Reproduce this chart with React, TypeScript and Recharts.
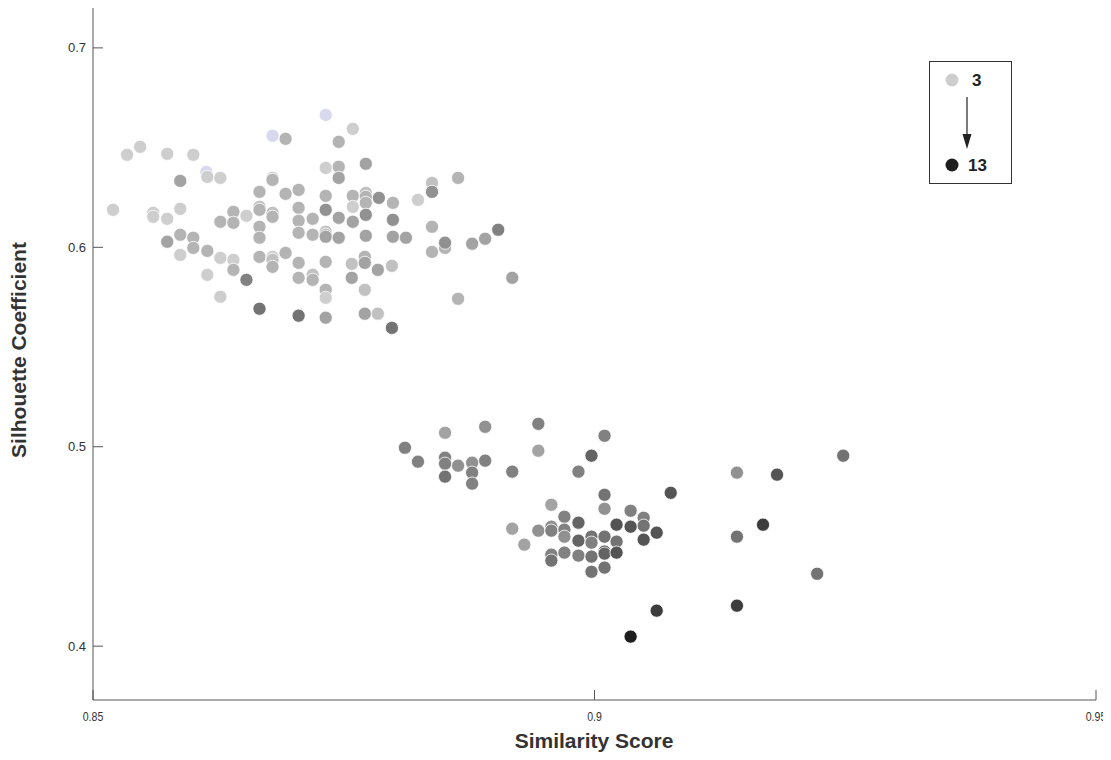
import React from 'react';
import { ScatterChart, Scatter, XAxis, YAxis, Legend, Label } from 'recharts';

// Similarity score of each run (x)
const similarity: number[] = [
  // upper group
  0.8520, 0.8534, 0.8547, 0.8574, 0.8600, 0.8587, 0.8613, 0.8614, 0.8627, 0.8560,
  0.8560, 0.8574, 0.8587, 0.8574, 0.8587, 0.8600, 0.8600, 0.8614, 0.8587, 0.8627,
  0.8640, 0.8640, 0.8653, 0.8614, 0.8627, 0.8640, 0.8627, 0.8640, 0.8653, 0.8666,
  0.8666, 0.8679, 0.8679, 0.8666, 0.8666, 0.8666, 0.8666, 0.8679, 0.8679, 0.8679,
  0.8692, 0.8692, 0.8705, 0.8679, 0.8679, 0.8679, 0.8692, 0.8666, 0.8705, 0.8705,
  0.8705, 0.8705, 0.8705, 0.8705, 0.8719, 0.8719, 0.8719, 0.8719, 0.8732, 0.8732,
  0.8732, 0.8732, 0.8732, 0.8732, 0.8732, 0.8732, 0.8732, 0.8732, 0.8732, 0.8745,
  0.8759, 0.8745, 0.8745, 0.8745, 0.8745, 0.8772, 0.8759, 0.8759, 0.8759, 0.8772,
  0.8772, 0.8772, 0.8772, 0.8785, 0.8799, 0.8799, 0.8772, 0.8799, 0.8812, 0.8824,
  0.8838, 0.8838, 0.8864, 0.8838, 0.8851, 0.8851, 0.8838, 0.8878, 0.8891, 0.8904,
  0.8918, 0.8864, 0.8758, 0.8771, 0.8771, 0.8784, 0.8798, 0.8758, 0.8771, 0.8771,
  0.8784, 0.8798,
  // lower group
  0.8811, 0.8824, 0.8851, 0.8891, 0.8944, 0.8944, 0.8851, 0.8851, 0.8851, 0.8864,
  0.8878, 0.8878, 0.8878, 0.8891, 0.8918, 0.8984, 0.8997, 0.9010, 0.9010, 0.9010,
  0.8957, 0.8970, 0.8984, 0.8918, 0.8944, 0.8957, 0.8957, 0.8970, 0.8970, 0.8930,
  0.8984, 0.8997, 0.8997, 0.9010, 0.8957, 0.8957, 0.8970, 0.8984, 0.8997, 0.9010,
  0.9010, 0.9010, 0.8997, 0.9036, 0.9049, 0.9049, 0.9022, 0.9036, 0.9076, 0.9062,
  0.9049, 0.9022, 0.9022, 0.9142, 0.9182, 0.9248, 0.9168, 0.9142, 0.9222, 0.9062,
  0.9142, 0.9036,
];

// Silhouette coefficient of each run (y)
const silhouette: number[] = [
  // upper group
  0.6188, 0.6464, 0.6504, 0.6469, 0.6464, 0.6333, 0.6378, 0.6353, 0.6348, 0.6173,
  0.6153, 0.6143, 0.6193, 0.6028, 0.6063, 0.6048, 0.5997, 0.5982, 0.5962, 0.5947,
  0.5937, 0.5887, 0.5837, 0.5862, 0.5752, 0.6178, 0.6128, 0.6123, 0.6158, 0.6203,
  0.6188, 0.6173, 0.6153, 0.6278, 0.6103, 0.6048, 0.5952, 0.6348, 0.6338, 0.6559,
  0.6544, 0.6268, 0.6288, 0.5952, 0.5937, 0.5902, 0.5972, 0.5692, 0.6198, 0.6133,
  0.6073, 0.5922, 0.5847, 0.5657, 0.6143, 0.6063, 0.5862, 0.5837, 0.6664, 0.6398,
  0.6258, 0.6188, 0.6078, 0.6063, 0.6053, 0.5927, 0.5787, 0.5747, 0.5647, 0.6529,
  0.6594, 0.6404, 0.6348, 0.6148, 0.6048, 0.6419, 0.6258, 0.6203, 0.6128, 0.6273,
  0.6253, 0.6223, 0.6163, 0.6248, 0.6223, 0.6138, 0.6058, 0.6053, 0.6048, 0.6238,
  0.6323, 0.6278, 0.6348, 0.6103, 0.5997, 0.6023, 0.5977, 0.6018, 0.6043, 0.6088,
  0.5847, 0.5742, 0.5917, 0.5952, 0.5922, 0.5887, 0.5907, 0.5847, 0.5787, 0.5667,
  0.5667, 0.5596,
  // lower group
  0.4995, 0.4925, 0.5070, 0.5100, 0.5115, 0.4980, 0.4945, 0.4915, 0.4850, 0.4905,
  0.4920, 0.4870, 0.4815, 0.4930, 0.4875, 0.4875, 0.4955, 0.5055, 0.4759, 0.4689,
  0.4709, 0.4649, 0.4619, 0.4589, 0.4579, 0.4599, 0.4579, 0.4584, 0.4549, 0.4509,
  0.4529, 0.4549, 0.4519, 0.4549, 0.4459, 0.4429, 0.4469, 0.4454, 0.4449, 0.4474,
  0.4464, 0.4394, 0.4373, 0.4679, 0.4644, 0.4604, 0.4609, 0.4599, 0.4769, 0.4569,
  0.4534, 0.4524, 0.4469, 0.4870, 0.4860, 0.4955, 0.4609, 0.4549, 0.4363, 0.4178,
  0.4203, 0.4048,
];

// Number of clusters of each run (3 .. 13); 2 marks the tinted runs
const clusterCount: number[] = [
  // upper group
  3, 3, 3, 3, 3, 6, 2, 3, 3, 3,
  3, 3, 3, 6, 5, 5, 5, 5, 3, 3,
  3, 5, 8, 3, 3, 5, 5, 5, 3, 4,
  5, 4, 5, 5, 5, 5, 5, 3, 5, 2,
  5, 5, 5, 3, 4, 5, 5, 9, 5, 5,
  5, 5, 5, 9, 5, 5, 4, 5, 2, 3,
  5, 7, 4, 5, 6, 5, 5, 3, 6, 5,
  3, 5, 6, 6, 6, 6, 5, 3, 6, 4,
  5, 5, 7, 7, 5, 7, 6, 6, 6, 3,
  4, 7, 5, 5, 5, 7, 5, 6, 6, 8,
  6, 5, 4, 5, 6, 6, 4, 6, 4, 6,
  4, 9,
  // lower group
  8, 8, 6, 7, 8, 6, 8, 8, 9, 7,
  7, 8, 8, 8, 8, 8, 10, 8, 9, 7,
  6, 8, 10, 6, 7, 7, 8, 8, 7, 6,
  10, 9, 8, 9, 8, 9, 8, 8, 9, 11,
  10, 9, 9, 8, 8, 9, 11, 11, 11, 11,
  11, 9, 11, 7, 11, 9, 12, 9, 9, 12,
  12, 13,
];

const xTicks = [0.85, 0.9, 0.95];
const yTicks = [0.4, 0.5, 0.6, 0.7];

const shade: Record<number, string> = {
  2: '#d8d8ee',
  3: '#cecece',
  4: '#c1c1c1',
  5: '#b4b4b4',
  6: '#a3a3a3',
  7: '#919191',
  8: '#818181',
  9: '#737373',
  10: '#646464',
  11: '#545454',
  12: '#3c3c3c',
  13: '#1e1e1e',
};

const runs = similarity.map((x, i) => ({ x, y: silhouette[i], k: clusterCount[i] }));

const FONT = '"Liberation Sans", Arial, Helvetica, sans-serif';
const AXIS = '#555';

const XTick = (p: any) => (
  <g>
    <line x1={p.x} y1={p.y} x2={p.x} y2={p.y - 10} stroke={AXIS} strokeWidth={1} />
    <text
      x={p.x}
      y={p.y + 21}
      textAnchor="middle"
      fontSize={12}
      fill="#333"
      fontFamily={FONT}
      transform={`translate(${p.x * 0.12},0) scale(0.88,1)`}
    >
      {String(p.payload.value)}
    </text>
  </g>
);

const YTick = (p: any) => (
  <g>
    <line x1={p.x} y1={p.y} x2={p.x + 10} y2={p.y} stroke={AXIS} strokeWidth={1} />
    <text x={p.x - 7} y={p.y} dy="0.35em" textAnchor="end" fontSize={13} fill="#333" fontFamily={FONT}>
      {String(p.payload.value)}
    </text>
  </g>
);

const Dot = (p: any) => (
  <circle cx={p.cx} cy={p.cy} r={6.6} fill={shade[p.payload.k]} stroke="#fff" strokeWidth={0.8} />
);

const ScaleKey = () => (
  <div
    style={{
      width: 83,
      height: 123,
      boxSizing: 'border-box',
      border: '1px solid #333',
      background: '#fff',
    }}
  >
    <svg width={81} height={121} style={{ display: 'block' }}>
      <circle cx={22} cy={18} r={6.5} fill={shade[3]} />
      <text x={42} y={18} dy="0.36em" fontSize={17} fontWeight="bold" fill="#222" fontFamily={FONT}>
        3
      </text>
      <line x1={37} y1={35} x2={37} y2={74} stroke="#222" strokeWidth={1.2} />
      <polygon points="32.5,72 41.5,72 37,87" fill="#222" />
      <circle cx={22} cy={103} r={6.5} fill={shade[13]} />
      <text x={38} y={103} dy="0.36em" fontSize={17} fontWeight="bold" fill="#222" fontFamily={FONT}>
        13
      </text>
    </svg>
  </div>
);

export default function App() {
  return (
    <div style={{ width: 1103, height: 744, fontFamily: FONT, background: '#fff', overflow: 'visible' }}>
      <style>{'html, body { overflow: hidden; } .recharts-surface { overflow: visible; }'}</style>
      <ScatterChart width={1103} height={744} margin={{ top: 0, right: 15, bottom: 0, left: 0 }}>
        <XAxis
          type="number"
          dataKey="x"
          domain={[0.85, 0.95]}
          ticks={xTicks}
          allowDataOverflow
          height={52}
          tickSize={0}
          tickMargin={0}
          tick={<XTick />}
          axisLine={{ stroke: AXIS, strokeWidth: 1 }}
          tickLine={false}
        >
          <Label
            content={() => (
              <text
                x={586}
                y={740}
                textAnchor="middle"
                fontSize={21}
                fontWeight="bold"
                fill="#333"
                fontFamily={FONT}
              >
                Similarity Score
              </text>
            )}
          />
        </XAxis>
        <YAxis
          type="number"
          dataKey="y"
          domain={[0.373, 0.72]}
          ticks={yTicks}
          allowDataOverflow
          width={85}
          tickSize={0}
          tickMargin={0}
          tick={<YTick />}
          axisLine={{ stroke: AXIS, strokeWidth: 1 }}
          tickLine={false}
        >
          <Label
            content={() => (
              <text
                transform="translate(18,342) rotate(-90)"
                textAnchor="middle"
                fontSize={21}
                fontWeight="bold"
                fill="#333"
                fontFamily={FONT}
              >
                Silhouette Coefficient
              </text>
            )}
          />
        </YAxis>
        <Legend
          layout="vertical"
          align="center"
          verticalAlign="middle"
          content={() => <ScaleKey />}
          wrapperStyle={{ position: 'absolute', left: 921, top: 53, width: 83, height: 123 }}
        />
        <Scatter data={runs} shape={<Dot />} isAnimationActive={false} />
      </ScatterChart>
    </div>
  );
}
